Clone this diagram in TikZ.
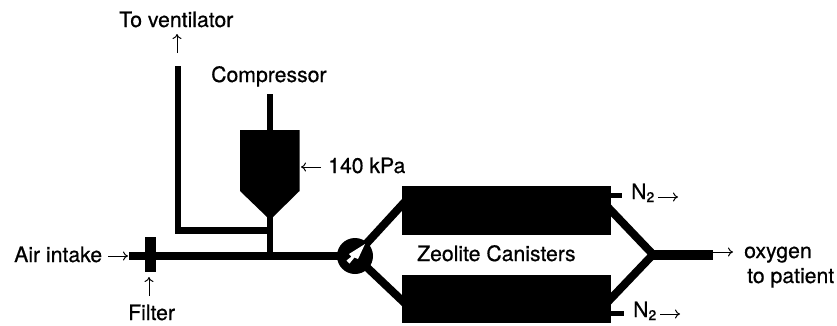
\documentclass[tikz,border=0pt]{standalone}
\usepackage{fontspec}
\setmainfont{TeX Gyre Heros}[BoldFont=TeX Gyre Heros, BoldFeatures={FakeBold=0.6}]
\usepackage{tikz}
\usetikzlibrary{arrows.meta}

\begin{document}
\begin{tikzpicture}[
    x=1pt, y=-1pt,
    label/.style={font=\fontsize{21.2}{24}\selectfont\bfseries, inner sep=0pt, anchor=base west},
    pipe/.style={line width=8pt},
    thinpipe/.style={line width=6.5pt},
    stub/.style={line width=5pt},
    block/.style={draw=none, fill=black, inner sep=0pt},
    arrow/.style={-{To[length=5pt, width=9pt]}, line width=1pt}
]
    \useasboundingbox (0, 0) rectangle (837, 325);

    % pipe ends
    \coordinate (vent) at (178, 66);
    \coordinate (bend) at (178, 230.5);
    \coordinate (tee2) at (270, 230.5);
    \coordinate (top) at (270, 94);
    \coordinate (tee) at (270, 256);
    \coordinate (inlet) at (129, 256);
    \coordinate (hub) at (355, 256);
    \coordinate (join) at (653, 254.5);
    \coordinate (outlet) at (713, 254.5);
    \coordinate (upperin) at (412, 194);
    \coordinate (lowerin) at (412, 310);
    \coordinate (upperout) at (601, 200);
    \coordinate (lowerout) at (601, 309);
    \coordinate (upperbase) at (600, 195);
    \coordinate (lowerbase) at (600, 313);
    \coordinate (upperstub) at (622, 195);
    \coordinate (lowerstub) at (624, 313);

    \draw[thinpipe] (vent) -- (bend) -- (tee2);
    \draw[thinpipe] (top) -- (tee);
    \draw[pipe] (inlet) -- (hub);
    \draw[pipe] (hub) -- (upperin);
    \draw[pipe] (hub) -- (lowerin);
    \draw[pipe, line join=miter] (upperout) -- (join) -- (lowerout);
    \draw[line width=10pt] (join) -- (outlet);
    \draw[stub] (upperbase) -- (upperstub);
    \draw[stub] (lowerbase) -- (lowerstub);

    % canisters, valve and filter
    \node[block, minimum width=209pt, minimum height=49pt] (upper) at (506.5, 210.5) {};
    \node[block, minimum width=209pt, minimum height=48pt] (lower) at (506.5, 299) {};
    \node[block, circle, minimum size=36pt] (valve) at (hub) {};
    \node[block, minimum width=11pt, minimum height=35pt] (filter) at (150.5, 254.5) {};

    % compressor
    \fill (240, 130) -- (299.5, 130) -- (299.5, 191) -- (273, 217) -- (267, 217) -- (240, 191) -- cycle;

    % arrow in the valve
    \fill[white] (365, 244) -- (349, 254) -- (351.5, 256.5) -- (346.5, 260.5) -- (349.5, 263.5) -- (354.5, 257.5) -- (358, 259) -- cycle;

    % labels
    \node[label] (ventlabel) at (119, 27) {To ventilator};
    \node[label] (complabel) at (211, 82) {Compressor};
    \node[label] (kpalabel) at (328, 173) {140 kPa};
    \node[label] (airlabel) at (14, 262) {Air intake};
    \node[label] (filterlabel) at (128, 320) {Filter};
    \node[label] (zeolabel) at (417, 261) {Zeolite Canisters};
    \node[label] (n2a) at (631, 199) {N\raisebox{-3pt}{\fontsize{14}{16}\selectfont\bfseries 2}};
    \node[label] (n2b) at (633, 317) {N\raisebox{-3pt}{\fontsize{14}{16}\selectfont\bfseries 2}};
    \node[label] (oxylabel) at (744, 258) {oxygen};
    \node[label] (patlabel) at (747, 283) {to patient};

    % small arrows
    \coordinate (venttail) at (177, 53);
    \coordinate (venthead) at (177, 34);
    \coordinate (kpatail) at (321, 167);
    \coordinate (kpahead) at (301, 167);
    \coordinate (airtail) at (108, 256);
    \coordinate (airhead) at (128, 256);
    \coordinate (filtertail) at (149, 296);
    \coordinate (filterhead) at (149, 277);
    \coordinate (n2atail) at (658, 197);
    \coordinate (n2ahead) at (678, 197);
    \coordinate (n2btail) at (660, 314);
    \coordinate (n2bhead) at (680, 314);
    \coordinate (oxyhead) at (733, 252);
    \draw[arrow] (venttail) -- (venthead);
    \draw[arrow] (kpatail) -- (kpahead);
    \draw[arrow] (airtail) -- (airhead);
    \draw[arrow] (filtertail) -- (filterhead);
    \draw[arrow] (n2atail) -- (n2ahead);
    \draw[arrow] (n2btail) -- (n2bhead);
    \draw[arrow] (outlet |- oxyhead) -- (oxyhead);
\end{tikzpicture}
\end{document}
